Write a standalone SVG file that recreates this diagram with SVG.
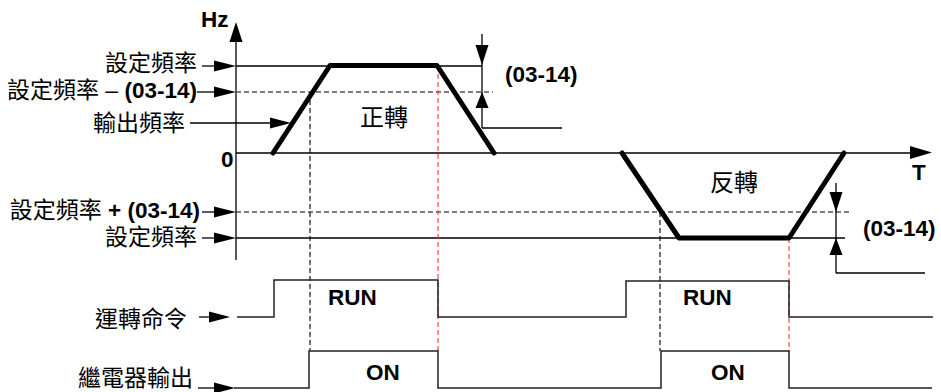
<svg xmlns="http://www.w3.org/2000/svg" width="941" height="392" viewBox="0 0 941 392">
<style>
.cjk{font-family:"Liberation Sans","Noto Sans CJK TC",sans-serif;font-size:23px;fill:#000}
.b{font-family:"Liberation Sans",Arial,sans-serif;font-weight:bold;font-size:22.5px;fill:#000}
.ln{stroke:#000;stroke-width:1.3;fill:none}
.dg{stroke:#555;stroke-width:1.3;fill:none;stroke-dasharray:5,3}
.dk{stroke:#000;stroke-width:1.1;fill:none;stroke-dasharray:5,3}
.dr{stroke:#f33;stroke-width:1.1;fill:none;stroke-dasharray:5,3}
.tr{stroke:#000;stroke-width:5;fill:none;stroke-linecap:round;stroke-linejoin:round}
.sig{stroke:#222;stroke-width:1.5;fill:none}
.ah{fill:#000}
</style>
<g id="axes">
  <line class="ln" x1="236" y1="40" x2="236" y2="260"/>
  <polygon class="ah" points="236,22 229.5,42 242.5,42"/>
  <line class="ln" x1="236" y1="153" x2="912" y2="153"/>
  <polygon class="ah" points="932,152.5 910,146 910,159"/>
  <text class="b" x="201" y="27">Hz</text>
  <text class="b" x="221" y="167">0</text>
  <text class="b" x="912" y="180">T</text>
</g>
<g id="levels">
  <line class="ln" x1="236" y1="66" x2="482" y2="66"/>
  <line class="dg" x1="236" y1="92" x2="493" y2="92"/>
  <line class="dk" x1="236" y1="212" x2="850" y2="212"/>
  <line class="ln" x1="236" y1="238" x2="845" y2="238"/>
</g>
<g id="guides">
  <line class="dk" x1="310" y1="92" x2="310" y2="351"/>
  <line class="dr" x1="438" y1="66" x2="438" y2="351"/>
  <line class="dk" x1="660" y1="212" x2="660" y2="351"/>
  <line class="dr" x1="789" y1="238" x2="789" y2="351"/>
</g>
<g id="forward">
  <polyline class="tr" points="273,153 330,65.5 437,65.5 494,153"/>
  <text class="cjk" x="360" y="126" style="font-size:24px">正轉</text>
</g>
<g id="reverse">
  <polyline class="tr" points="622,153 679,238 789,238 844,153"/>
  <text class="cjk" x="710" y="191" style="font-size:24px">反轉</text>
</g>
<g id="dim1">
  <line class="ln" x1="482" y1="34" x2="482" y2="128"/>
  <line class="ln" x1="482" y1="128" x2="562" y2="128"/>
  <polygon class="ah" points="482,65 475.5,45 488.5,45"/>
  <polygon class="ah" points="482,92 475.5,108 488.5,108"/>
  <text class="b" x="505" y="82">(03-14)</text>
</g>
<g id="dim2">
  <line class="ln" x1="836" y1="183" x2="836" y2="273"/>
  <line class="ln" x1="836" y1="273" x2="925" y2="273"/>
  <polygon class="ah" points="836,212 829.5,192 842.5,192"/>
  <polygon class="ah" points="836,238 829.5,255 842.5,255"/>
  <text class="b" x="863" y="236">(03-14)</text>
</g>
<g id="labels">
  <text class="cjk" x="197" y="71" text-anchor="end">設定頻率</text>
  <line class="ln" x1="202" y1="66" x2="216" y2="66"/>
  <polygon class="ah" points="236,66 214,60.5 214,71.5"/>

  <text class="cjk" x="197" y="98" text-anchor="end">設定頻率 – <tspan class="b">(03-14)</tspan></text>
  <line class="ln" x1="197" y1="92" x2="216" y2="92"/>
  <polygon class="ah" points="236,92 214,86.5 214,97.5"/>

  <text class="cjk" x="185" y="131" text-anchor="end">輸出頻率</text>
  <line class="ln" x1="190" y1="123" x2="272" y2="123"/>
  <polygon class="ah" points="291,123 270,117.5 270,128.5"/>

  <text class="cjk" x="200" y="218" text-anchor="end">設定頻率 <tspan class="b">+ (03-14)</tspan></text>
  <line class="ln" x1="202" y1="212" x2="216" y2="212"/>
  <polygon class="ah" points="236,212 214,206.5 214,217.5"/>

  <text class="cjk" x="197" y="245" text-anchor="end">設定頻率</text>
  <line class="ln" x1="202" y1="238" x2="216" y2="238"/>
  <polygon class="ah" points="236,238 214,232.5 214,243.5"/>
</g>
<g id="run">
  <text class="cjk" x="187" y="327" text-anchor="end">運轉命令</text>
  <line class="ln" x1="199" y1="317" x2="212" y2="317"/>
  <polygon class="ah" points="230,317 209,311.5 209,322.5"/>
  <polyline class="sig" points="237,317 274,317 274,280 438,280 438,317 626,317 626,281 789,281 789,317 933,317"/>
  <text class="b" x="328" y="305">RUN</text>
  <text class="b" x="683" y="305">RUN</text>
</g>
<g id="relay">
  <text class="cjk" x="193" y="386" text-anchor="end">繼電器輸出</text>
  <line class="ln" x1="198" y1="388" x2="216" y2="388"/>
  <polygon class="ah" points="235,388 214,382.5 214,393.5"/>
  <polyline class="sig" points="234,388 309,388 309,351 438,351 438,388 661,388 661,351 789,351 789,388 932,388"/>
  <text class="b" x="366" y="380">ON</text>
  <text class="b" x="711" y="380">ON</text>
</g>
</svg>
